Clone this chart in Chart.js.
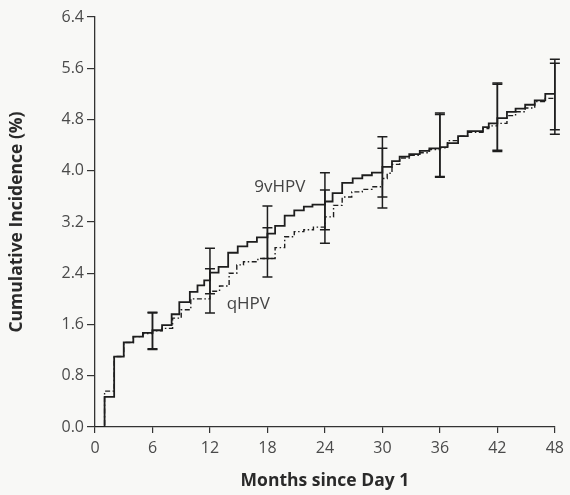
<!DOCTYPE html>
<html>
<head>
<meta charset="utf-8">
<script src="https://cdn.jsdelivr.net/npm/chart.js@4.4.1/dist/chart.umd.min.js"></script>
<style>
  html, body { margin: 0; padding: 0; background: #f8f8f6; }
  #chart { display: block; }
</style>
</head>
<body>
<canvas id="chart" width="570" height="495"></canvas>
<script>
// 9vHPV cumulative incidence (step function: month of step, new value %)
const monthsV = [0, 1, 2, 3, 4, 5, 6, 7, 8, 8.8, 9.9, 10.7, 11.4, 12, 12.9, 13.9, 14.9, 15.9, 16.9, 18,
    18.8, 19.8, 20.8, 21.8, 22.7, 24, 24.8, 25.8, 26.9, 27.9, 28.9, 30, 31, 31.8, 32.8, 33.9, 34.9, 36,
    36.8, 37.9, 38.9, 40.5, 41.1, 42, 43, 43.9, 44.9, 45.9, 47, 48];
const incV = [0, 0.47, 1.10, 1.32, 1.41, 1.47, 1.51, 1.59, 1.76, 1.95, 2.11, 2.21, 2.29, 2.41, 2.50, 2.72, 2.82, 2.89, 2.96, 3.02,
    3.14, 3.30, 3.38, 3.44, 3.47, 3.52, 3.65, 3.81, 3.88, 3.93, 3.97, 4.06, 4.15, 4.22, 4.26, 4.31, 4.35, 4.37,
    4.43, 4.54, 4.62, 4.68, 4.74, 4.82, 4.92, 4.97, 5.03, 5.10, 5.20, 5.21];

// qHPV cumulative incidence
const monthsQ = [0, 1, 2, 3, 4, 5, 6, 7, 8.1, 9, 10, 12, 13, 14, 14.8, 15.5, 17, 18.8, 19.8, 20.8,
    21.8, 22.8, 24, 24.9, 25.8, 26.8, 27.9, 28.9, 30, 30.5, 31, 31.8, 32.8, 33.9, 34.9, 36, 36.8, 37.9,
    38.9, 40.5, 41.1, 42, 43, 43.9, 44.9, 45.9, 47, 48];
const incQ = [0, 0.56, 1.10, 1.32, 1.41, 1.46, 1.50, 1.54, 1.70, 1.83, 2.00, 2.12, 2.20, 2.40, 2.53, 2.58, 2.63, 2.80, 2.97, 3.05,
    3.08, 3.12, 3.28, 3.46, 3.59, 3.67, 3.71, 3.75, 3.88, 3.96, 4.10, 4.20, 4.24, 4.28, 4.33, 4.36, 4.47, 4.54,
    4.60, 4.66, 4.70, 4.74, 4.86, 4.92, 4.98, 5.08, 5.13, 5.13];

// 95% confidence intervals at the marked months
const ciMonths = [6, 12, 18, 24, 30, 36, 42, 48];
const v9Low = [1.22, 2.08, 2.63, 3.08, 3.59, 3.91, 4.32, 4.64];
const v9High = [1.79, 2.79, 3.45, 3.97, 4.53, 4.90, 5.37, 5.74];
const qLow = [1.21, 1.78, 2.34, 2.87, 3.42, 3.90, 4.30, 4.57];
const qHigh = [1.78, 2.47, 3.11, 3.70, 4.35, 4.88, 5.35, 5.68];

const xTicks = [0, 6, 12, 18, 24, 30, 36, 42, 48];
const yTicks = [0, 0.8, 1.6, 2.4, 3.2, 4.0, 4.8, 5.6, 6.4];

// series labels placed in data coordinates
const seriesLabels = [
    { text: "9vHPV", x: 19.3, y: 3.74 },
    { text: "qHPV", x: 16.0, y: 1.92 }
];

const ink = "#1e1e1e";
const tickFont = { family: "'Open Sans', 'Noto Sans', sans-serif", size: 16 };
const titleFont = { family: "'Open Sans', 'Noto Sans', sans-serif", size: 17.5, weight: "bold" };

const background = {
    id: "background",
    beforeDraw(chart) {
        const ctx = chart.ctx;
        ctx.save();
        ctx.fillStyle = "#f8f8f6";
        ctx.fillRect(0, 0, chart.width, chart.height);
        ctx.restore();
    }
};

function drawBar(ctx, xs, ys, m, lo, hi) {
    const x = xs.getPixelForValue(m);
    const y1 = ys.getPixelForValue(lo);
    const y2 = ys.getPixelForValue(hi);
    ctx.beginPath();
    ctx.moveTo(x, y1);
    ctx.lineTo(x, y2);
    ctx.moveTo(x - 5, y1);
    ctx.lineTo(x + 5, y1);
    ctx.moveTo(x - 5, y2);
    ctx.lineTo(x + 5, y2);
    ctx.stroke();
}

const errorBars = {
    id: "errorBars",
    afterDatasetsDraw(chart) {
        const ctx = chart.ctx;
        const xs = chart.scales.x;
        const ys = chart.scales.y;
        ctx.save();
        ctx.strokeStyle = ink;
        ctx.lineWidth = 1.5;
        ciMonths.forEach((m, i) => {
            drawBar(ctx, xs, ys, m, v9Low[i], v9High[i]);
            drawBar(ctx, xs, ys, m, qLow[i], qHigh[i]);
        });
        ctx.fillStyle = "#444";
        ctx.font = "17px 'Open Sans', 'Noto Sans', sans-serif";
        ctx.textAlign = "center";
        ctx.textBaseline = "middle";
        seriesLabels.forEach(l => {
            ctx.fillText(l.text, xs.getPixelForValue(l.x), ys.getPixelForValue(l.y));
        });
        ctx.restore();
    }
};

new Chart(document.getElementById("chart"), {
    type: "line",
    data: {
        datasets: [
            {
                label: "9vHPV",
                data: monthsV.map((m, i) => ({ x: m, y: incV[i] })),
                stepped: true,
                borderColor: ink,
                borderWidth: 1.8,
                pointRadius: 0,
                fill: false
            },
            {
                label: "qHPV",
                data: monthsQ.map((m, i) => ({ x: m, y: incQ[i] })),
                stepped: true,
                borderColor: ink,
                borderWidth: 1.4,
                borderDash: [5, 2.5, 1.5, 2.5],
                pointRadius: 0,
                fill: false
            }
        ]
    },
    options: {
        responsive: false,
        animation: false,
        layout: { padding: { top: 17, right: 11, left: 0, bottom: 0 } },
        plugins: {
            legend: { display: false },
            tooltip: { enabled: false }
        },
        scales: {
            x: {
                type: "linear",
                min: 0,
                max: 48,
                afterBuildTicks: s => { s.ticks = xTicks.map(v => ({ value: v })); },
                afterFit: s => { s.height = 68; },
                ticks: { color: "#4a4a4a", font: tickFont, padding: 6 },
                grid: { drawOnChartArea: false, tickLength: 6, color: "#333", lineWidth: 1.2 },
                border: { color: "#333", width: 1.3 },
                title: { display: true, text: "Months since Day 1", color: "#2a2a2a", font: titleFont, padding: { top: 0, bottom: 3 } }
            },
            y: {
                min: 0,
                max: 6.4,
                afterBuildTicks: s => { s.ticks = yTicks.map(v => ({ value: v })); },
                afterFit: s => { s.width = 95; },
                ticks: { color: "#4a4a4a", font: tickFont, padding: 3, callback: v => v.toFixed(1) },
                grid: { drawOnChartArea: false, tickLength: 8, color: "#333", lineWidth: 1.2 },
                border: { color: "#333", width: 1.3 },
                title: { display: true, text: "Cumulative Incidence (%)", color: "#2a2a2a", font: titleFont, padding: { top: 7, bottom: 0 } }
            }
        }
    },
    plugins: [background, errorBars]
});
</script>
</body>
</html>
